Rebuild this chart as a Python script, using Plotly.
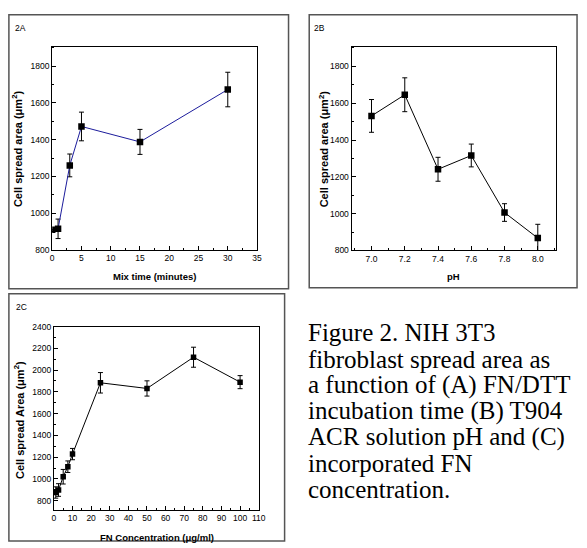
import plotly.graph_objects as go

W, H = 587, 548

# ---------------- data ----------------
mix_time = [0, 1, 3, 5, 15, 30]
mix_area = [910, 915, 1260, 1472, 1388, 1673]
mix_err = [0, 53, 62, 78, 68, 94]

ph_vals = [7.0, 7.2, 7.4, 7.6, 7.8, 8.0]
ph_area = [1531, 1646, 1241, 1316, 1006, 867]
ph_err = [89, 92, 65, 62, 48, 75]

fn_conc = [1, 2.5, 5, 7.5, 10, 25, 50, 75, 100]
fn_area = [875, 898, 1020, 1112, 1228, 1883, 1831, 2118, 1889]
fn_err = [52, 58, 67, 53, 52, 94, 70, 92, 60]

caption_lines = [
    "Figure 2. NIH 3T3",
    "fibroblast spread area as",
    "a function of (A) FN/DTT",
    "incubation time (B) T904",
    "ACR solution pH and (C)",
    "incorporated FN",
    "concentration.",
]

# --------------- helpers ---------------
def px_x(p):
    return p / W

def px_y(p):
    return 1 - p / H

TICKFONT = dict(family="Liberation Sans, Arial, sans-serif", size=8.5, color="black")

def axis(domain, rng, dtick, minor_dtick, anchor, **kw):
    d = dict(
        domain=domain, range=rng, dtick=dtick, anchor=anchor,
        showline=True, linecolor="black", linewidth=1, mirror=True,
        ticks="inside", ticklen=4, tickwidth=1, tickcolor="black",
        minor=dict(dtick=minor_dtick, ticks="inside", ticklen=2, tickcolor="black", tickwidth=1),
        showgrid=False, zeroline=False, tickfont=TICKFONT,
    )
    d.update(kw)
    return d

fig = go.Figure()

fig.add_trace(go.Scatter(
    x=mix_time, y=mix_area, mode="lines+markers",
    line=dict(color="#1c1c9c", width=1),
    marker=dict(symbol="square", size=6.5, color="black"),
    error_y=dict(type="data", array=mix_err, color="black", thickness=1, width=2.5),
    xaxis="x", yaxis="y", showlegend=False,
))
fig.add_trace(go.Scatter(
    x=ph_vals, y=ph_area, mode="lines+markers",
    line=dict(color="black", width=1),
    marker=dict(symbol="square", size=6.5, color="black"),
    error_y=dict(type="data", array=ph_err, color="black", thickness=1, width=2.5),
    xaxis="x2", yaxis="y2", showlegend=False,
))
fig.add_trace(go.Scatter(
    x=fn_conc, y=fn_area, mode="lines+markers",
    line=dict(color="black", width=1),
    marker=dict(symbol="square", size=5.5, color="black"),
    error_y=dict(type="data", array=fn_err, color="black", thickness=1, width=2.5),
    xaxis="x3", yaxis="y3", showlegend=False,
))

fig.update_layout(
    width=W, height=H, margin=dict(l=0, r=0, t=0, b=0),
    paper_bgcolor="white", plot_bgcolor="white",
    xaxis=axis([px_x(51), px_x(259)], [0, 35], 5, 2.5, "y"),
    yaxis=axis([px_y(249.5), px_y(42.3)], [800, 1907], 200, 100, "x"),
    xaxis2=axis([px_x(355), px_x(562.7)], [6.88, 8.11], 0.2, 0.1, "y2", tickformat=".1f"),
    yaxis2=axis([px_y(250), px_y(42.3)], [800, 1908], 200, 100, "x2"),
    xaxis3=axis([px_x(52.7), px_x(260.7)], [0, 110], 10, 5, "y3"),
    yaxis3=axis([px_y(514.3), px_y(327.5)], [715, 2400], 200, 100, "x3"),
)

# outer panel boxes
box_line = dict(color="#555555", width=1.5)
for (x0, y0, x1, y1) in [(7, 10, 291, 289), (312, 10, 584, 288), (7, 294, 287, 546)]:
    fig.add_shape(type="rect", xref="paper", yref="paper",
                  x0=px_x(x0), x1=px_x(x1), y0=px_y(y1), y1=px_y(y0),
                  line=box_line, fillcolor="rgba(0,0,0,0)", layer="below")

ann = []
LBL = dict(family="Liberation Sans, Arial, sans-serif", size=8.5, color="black")
for txt, x, y in [("2A", 19, 23), ("2B", 322, 23), ("2C", 20, 308)]:
    ann.append(dict(text=txt, x=px_x(x), y=px_y(y), xref="paper", yref="paper",
                    showarrow=False, font=LBL, xanchor="center", yanchor="middle"))

TF = dict(family="Liberation Sans, Arial, sans-serif", size=9.5, color="black")
YF = dict(family="Liberation Sans, Arial, sans-serif", size=11, color="black")
for txt, x, y in [("<b>Mix time (minutes)</b>", 155, 277),
                  ("<b>pH</b>", 459, 277),
                  ("<b>FN Concentration (μg/ml)</b>", 157, 542)]:
    ann.append(dict(text=txt, x=px_x(x), y=px_y(y), xref="paper", yref="paper",
                    showarrow=False, font=TF, xanchor="center", yanchor="middle"))
for txt, x, y in [("<b>Cell spread area (μm<sup>2</sup>)</b>", 16, 146),
                  ("<b>Cell spread area (μm<sup>2</sup>)</b>", 327, 146),
                  ("<b>Cell spread Area (μm<sup>2</sup>)</b>", 18, 423)]:
    ann.append(dict(text=txt, x=px_x(x), y=px_y(y), xref="paper", yref="paper",
                    showarrow=False, font=YF, textangle=-90,
                    xanchor="center", yanchor="middle"))

CF = dict(family="Liberation Serif, Times New Roman, serif", size=25, color="black")
line_y = [334, 361, 387, 414, 440, 467, 493]
for txt, y in zip(caption_lines, line_y):
    ann.append(dict(text=txt, x=px_x(309), y=px_y(y), xref="paper", yref="paper",
                    showarrow=False, font=CF, xanchor="left", yanchor="middle"))

fig.update_layout(annotations=ann)

fig.write_html("out.html", config={"displayModeBar": False},
               post_script="document.body.style.margin='0px';")
